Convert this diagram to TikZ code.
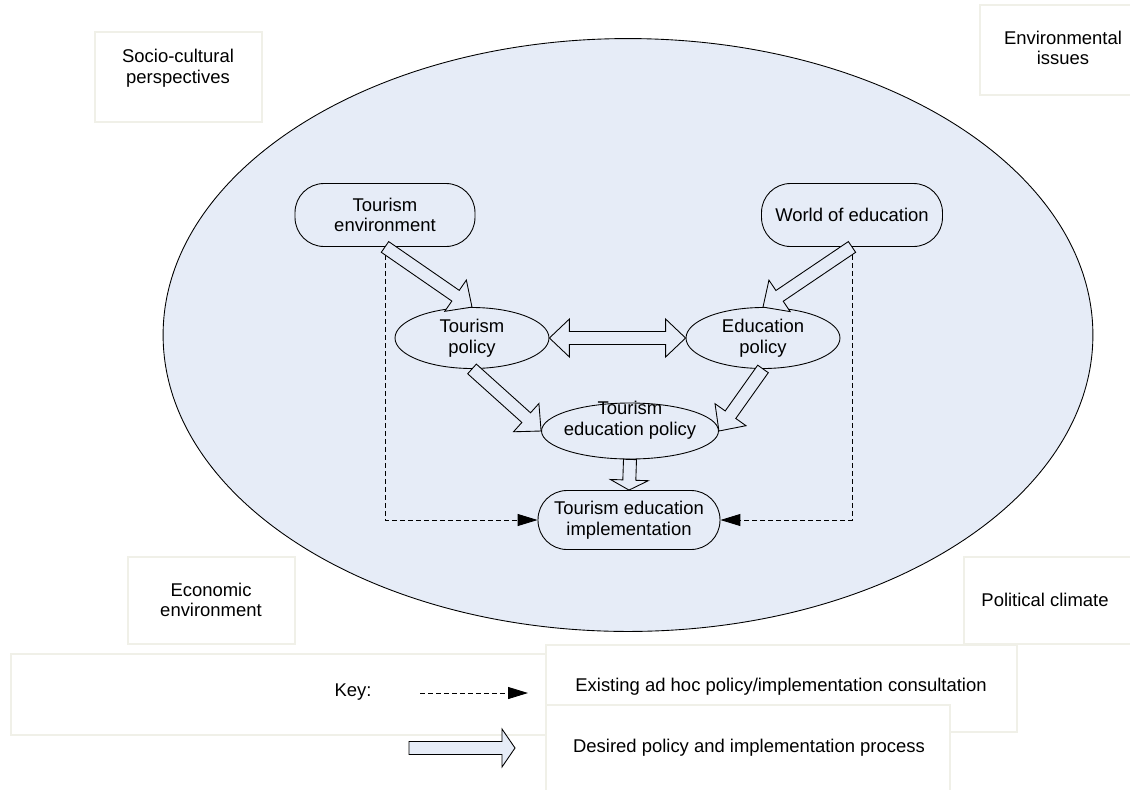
\documentclass[tikz,border=0pt]{standalone}
\usepackage{fontspec}
\setmainfont{Liberation Sans}
\usetikzlibrary{arrows.meta,shapes.geometric,calc}
\definecolor{policyblue}{RGB}{230,236,247}
\definecolor{boxline}{RGB}{240,240,232}

\begin{document}
\begin{tikzpicture}[x=0.02cm,y=-0.02cm,line width=0.5pt,
		font=\fontsize{10.5}{11.7}\selectfont]
		\tikzstyle{context}=[draw=boxline,fill=white,line width=0.8pt,inner sep=0pt]
		\tikzstyle{stadium}=[rectangle,draw,fill=policyblue,align=center,rounded corners=0.58cm,
			minimum height=1.26cm]
		\tikzstyle{policy}=[ellipse,draw,fill=policyblue,align=center,inner sep=0pt,
			minimum width=3.08cm,minimum height=1.22cm]
		\tikzstyle{consult}=[dash pattern=on 0.1cm off 0.06cm,-{Triangle[length=0.4cm,width=0.24cm]}]
		\tikzset{
			blockarrow/.style={draw,fill=policyblue,line join=miter,
				to path={let \p1=(\tikztostart),\p2=(\tikztotarget),\p3=($(\p2)!#1!(\p1)$) in
					($(\p1)!0.13cm!90:(\p2)$) -- ($(\p3)!0.13cm!90:(\p2)$) -- ($(\p3)!0.38cm!90:(\p2)$)
					-- (\p2) -- ($(\p3)!0.38cm!-90:(\p2)$) -- ($(\p3)!0.13cm!-90:(\p2)$)
					-- ($(\p1)!0.13cm!-90:(\p2)$) -- cycle}},
			blockarrow/.default=0.4cm,
			dblockarrow/.style={draw,fill=policyblue,line join=miter,
				to path={let \p1=(\tikztostart),\p2=(\tikztotarget),
					\p3=($(\p2)!0.4cm!(\p1)$),\p4=($(\p1)!0.4cm!(\p2)$) in
					(\p1) -- ($(\p4)!0.38cm!90:(\p2)$) -- ($(\p4)!0.13cm!90:(\p2)$)
					-- ($(\p3)!0.13cm!90:(\p2)$) -- ($(\p3)!0.38cm!90:(\p2)$) -- (\p2)
					-- ($(\p3)!0.38cm!-90:(\p2)$) -- ($(\p3)!0.13cm!-90:(\p2)$)
					-- ($(\p4)!0.13cm!-90:(\p2)$) -- ($(\p4)!0.38cm!-90:(\p2)$) -- cycle}}
		}
		\useasboundingbox (0,0) rectangle (1130,789);
		
		\node[ellipse,draw,fill=policyblue,minimum width=18.6cm,minimum height=11.86cm] (sphere) at (628,335) {};
		
		\node[context,minimum width=3.34cm,minimum height=1.8cm] (socbox) at (178.5,77) {};
		\node[align=center] (soc) at (178,68) {Socio-cultural\\perspectives};
		\node[context,minimum width=3.2cm,minimum height=1.8cm] (envbox) at (1060,50) {};
		\node[align=center] (env) at (1063,48) {Environmental\\issues};
		\node[context,minimum width=3.34cm,minimum height=1.74cm] (ecobox) at (211.5,600.5) {};
		\node[align=center] (eco) at (211,600) {Economic\\environment};
		\node[context,minimum width=3.52cm,minimum height=1.74cm] (polbox) at (1052,600.5) {};
		\node (pol) at (1045,600) {Political climate};
		
		\node[context,minimum width=10.98cm,minimum height=1.62cm] (keybox) at (285.5,694.5) {};
		\node[context,minimum width=9.42cm,minimum height=1.74cm] (existbox) at (781.5,688.5) {};
		\node[context,minimum width=8.08cm,minimum height=1.9cm] (desirebox) at (748,752.5) {};
		\node (key) at (353,692) {Key:};
		\node (exist) at (781,687) {Existing ad hoc policy/implementation consultation};
		\node (desire) at (749,748) {Desired policy and implementation process};
		\coordinate (k1) at (420,693);
		\coordinate (k2) at (528,693);
		\coordinate (k3) at (409,748);
		\coordinate (k4) at (515,748);
		\draw[consult] (k1) -- (k2);
		\draw[blockarrow=0.26cm] (k3) to (k4);
		
		\node[stadium,minimum width=3.6cm] (tenv) at (385,215) {Tourism\\environment};
		\node[stadium,minimum width=3.62cm] (world) at (852,215) {World of education};
		\node[policy] (tpol) at (472,338) {Tourism\\policy};
		\node[policy] (epol) at (763,338) {Education\\policy};
		\node[policy,minimum width=3.54cm,minimum height=1.12cm,
			label={[align=center,yshift=0.22cm]center:Tourism\\education policy}] (tedpol) at (630,431) {};
		\node[stadium,minimum width=3.64cm,minimum height=1.18cm] (impl) at (629,520) {Tourism education\\implementation};
		
		\draw[consult] (tenv.south) |- (impl.west);
		\draw[consult] (world.south) |- (impl.east);
		\draw[blockarrow] (tenv.south) to (tpol.north);
		\draw[blockarrow] (world.south) to (epol.north);
		\draw[dblockarrow] (tpol.east) to (epol.west);
		\draw[blockarrow] (tpol.south) to (tedpol.west);
		\draw[blockarrow] (epol.south) to (tedpol.east);
		\draw[blockarrow=0.2cm] (tedpol.south) to (impl.north);
\end{tikzpicture}
\end{document}
